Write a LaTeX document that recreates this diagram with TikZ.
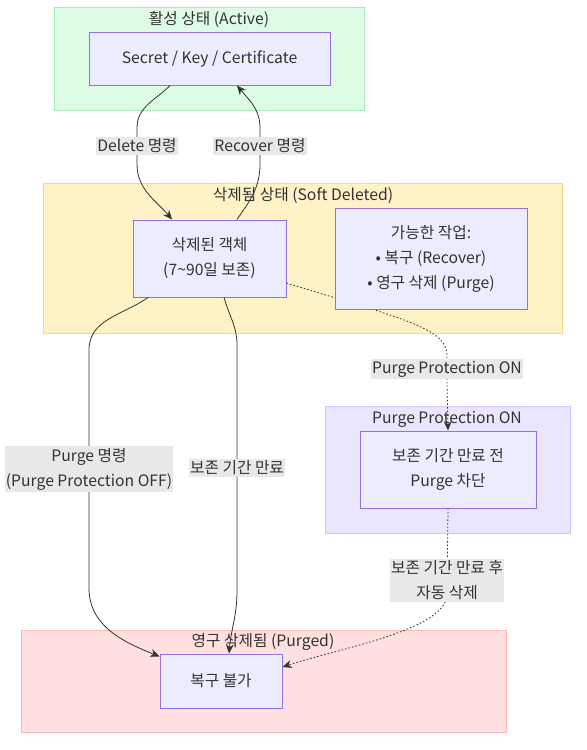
\documentclass[tikz,border=0pt]{standalone}
\usepackage{fontspec}
\setmainfont{Noto Sans CJK KR}
\usetikzlibrary{arrows.meta}

\definecolor{nodefill}{HTML}{ECECFF}
\definecolor{nodeline}{HTML}{9370DB}
\definecolor{textgray}{HTML}{333333}
\definecolor{linegray}{HTML}{333333}
\definecolor{labelgray}{HTML}{E8E8E8}
\definecolor{activefill}{HTML}{DEFBE6}
\definecolor{activeline}{HTML}{A6EBB9}
\definecolor{softfill}{HTML}{FFF2C7}
\definecolor{softline}{HTML}{F5D98A}
\definecolor{protectfill}{HTML}{EAE6FF}
\definecolor{protectline}{HTML}{CFC6FF}
\definecolor{purgedfill}{HTML}{FFDFDF}
\definecolor{purgedline}{HTML}{FFB8B8}

\begin{document}
\begin{tikzpicture}[x=0.75pt, y=-0.75pt, font=\fontsize{11.8}{18.75}\selectfont]
    \tikzstyle{state} = [rectangle, draw=nodeline, fill=nodefill, text=textgray, align=center, line width=0.75pt]
    \tikzstyle{area} = [line width=0.75pt]
    \tikzstyle{title} = [text=textgray, inner sep=0pt]
    \tikzstyle{edgelabel} = [fill=labelgray, text=textgray, align=center, inner xsep=1pt, inner ysep=1.5pt]
    \tikzstyle{arrow} = [draw=linegray, line width=0.6pt, -{Stealth[length=7pt,width=6pt]}]
    \tikzstyle{dotarrow} = [arrow, dash pattern=on 1.2pt off 1.5pt]

    \useasboundingbox (0,0) rectangle (586,750);

    % groups
    \draw[area, fill=activefill, draw=activeline] (54,7) rectangle (364,110);
    \draw[area, fill=softfill, draw=softline] (43,183) rectangle (562,333);
    \draw[area, fill=protectfill, draw=protectline] (325,406) rectangle (570,533);
    \draw[area, fill=purgedfill, draw=purgedline] (21,630) rectangle (506,732);

    \node[title] (activetitle) at (209,19) {활성 상태 (Active)};
    \node[title] (softtitle) at (303,196) {삭제됨 상태 (Soft Deleted)};
    \node[title] (protecttitle) at (447,419) {Purge Protection ON};
    \node[title] (purgedtitle) at (263,642) {영구 삭제됨 (Purged)};

    % states
    \node[state, minimum width=180.75pt, minimum height=39.75pt] (secret) at (209.5,58.5) {Secret / Key / Certificate};
    \node[state, minimum width=114.75pt, minimum height=57.75pt] (deleted) at (209.5,258.5) {삭제된 객체\\(7\textasciitilde90일 보존)};
    \node[state, minimum width=132pt, minimum height=57.75pt] (blocked) at (448,469.5) {보존 기간 만료 전\\Purge 차단};
    \node[state, minimum width=91.5pt, minimum height=40.5pt] (lost) at (221,681) {복구 불가};

    % transitions
    \draw[arrow] ([xshift=-29.6pt]secret.south) to[out=-135,in=90] (137,128)
        -- node[edgelabel] {Delete 명령} (137,164) to[out=-90,in=130] ([xshift=-28.1pt]deleted.north);
    \draw[arrow] ([xshift=20.6pt]deleted.north) to[out=55,in=-90] (260,164)
        -- node[edgelabel] {Recover 명령} (260,128) to[out=90,in=-50] ([xshift=20.6pt]secret.south);
    \draw[arrow] ([xshift=-46.1pt]deleted.south) to[out=-145,in=90] (89,350)
        -- node[edgelabel] {Purge 명령\\(Purge Protection OFF)} (89,588) to[out=-90,in=158] ([yshift=-2.25pt]lost.north west);
    \draw[arrow] ([xshift=10.9pt]deleted.south) to[out=-75,in=90] (237,345)
        -- node[edgelabel] {보존 기간 만료} (237,591) to[out=-90,in=85] ([xshift=6pt]lost.north);
    \draw[dotarrow] ([yshift=-18.4pt]deleted.east) .. controls (400,318) and (447,328) .. (447,355)
        -- node[edgelabel] {Purge Protection ON} (447,383) -- (blocked.north);
    \draw[dotarrow] (blocked.south) -- node[edgelabel, pos=0.84] {보존 기간 만료 후\\자동 삭제} (447,594)
        .. controls (447,630) and (340,648) .. ([yshift=10.5pt]lost.east);

    % drawn last, so the dotted line passes behind it
    \node[state, minimum width=144pt, minimum height=75.75pt] (actions) at (431,258.5) {가능한 작업:\\• 복구 (Recover)\\• 영구 삭제 (Purge)};
\end{tikzpicture}
\end{document}
